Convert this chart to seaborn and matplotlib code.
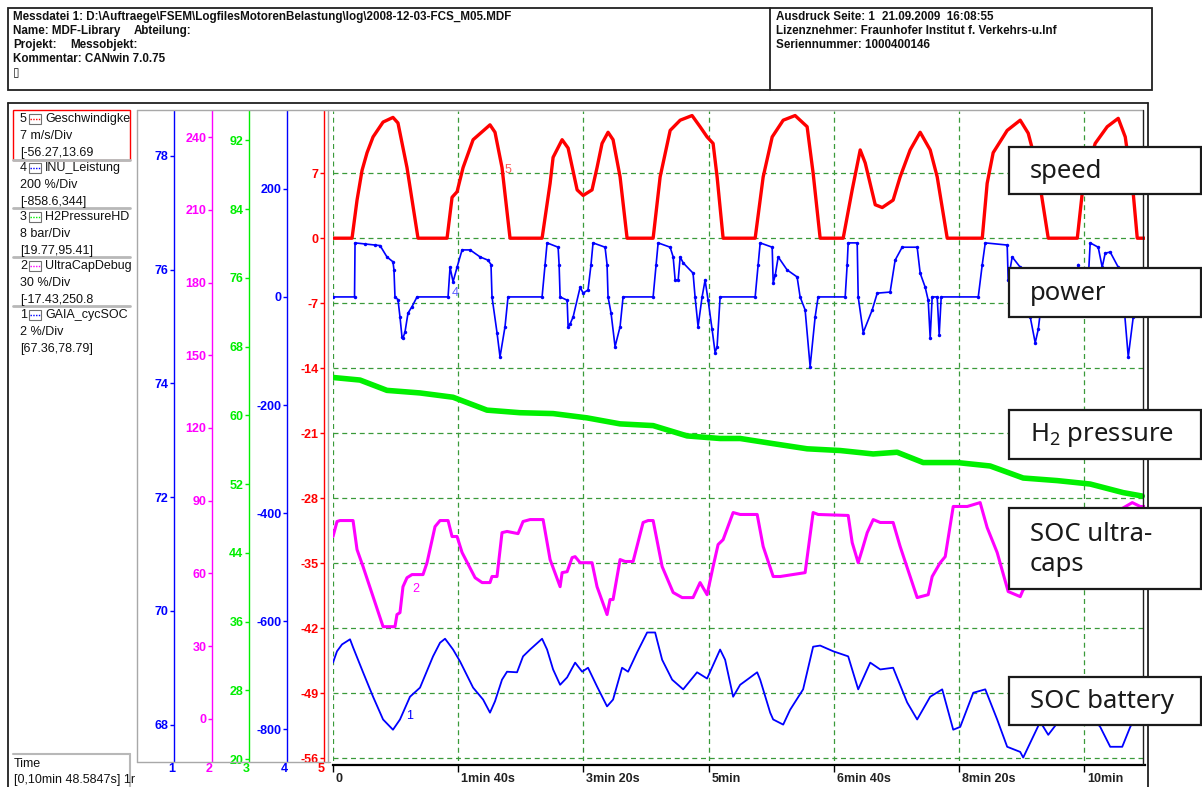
import numpy as np
import pandas as pd
import seaborn as sns
import matplotlib
matplotlib.use("Agg")
import matplotlib.pyplot as plt
from matplotlib.patches import Rectangle
from matplotlib.lines import Line2D
from matplotlib import transforms

# ---------------- data ----------------
time_ticks = [0, 100, 200, 300, 400, 500, 600]
time_labels = ["0", "1min 40s", "3min 20s", "5min", "6min 40s", "8min 20s", "10min"]
t_max = 648.58

# channel 5: Geschwindigkeit (speed, m/s)
speed_t = [0, 15.2, 19.2, 23.2, 27.2, 32.0, 40.0, 47.9, 51.9, 59.1, 67.9,
           91.1, 95.1, 99.1, 103.9, 111.9, 125.4, 129.4, 135.0, 141.4,
           167.0, 173.4, 175.8, 183.0, 187.8, 195.0, 199.8, 206.9, 210.9, 214.9, 219.7, 223.7, 229.3, 234.9,
           255.7, 261.3, 269.3, 277.3, 286.8, 293.2, 298.8, 303.6, 306.8, 311.6,
           337.2, 343.6, 350.8, 359.6, 369.1, 378.7, 383.5, 389.1,
           407.5, 414.7, 421.1, 425.1, 433.1, 438.7, 447.4, 453.0, 461.0, 469.0, 477.0, 482.6, 490.6,
           518.6, 522.5, 527.3, 538.5, 548.9, 555.3, 562.5, 571.3,
           594.5, 599.3, 608.8, 618.4, 627.2, 632.8, 639.2, 642.4, 648.6]
speed_v = [0, 0, 4.1, 7.3, 9.2, 10.9, 12.5, 13.0, 12.4, 7.6, 0,
           0, 4.4, 5.0, 7.6, 10.6, 12.2, 11.4, 7.6, 0,
           0, 5.9, 8.7, 10.6, 9.7, 5.2, 4.6, 5.2, 7.6, 10.2, 11.4, 10.6, 6.6, 0,
           0, 6.6, 11.6, 12.7, 13.2, 12.0, 10.9, 10.2, 6.6, 0,
           0, 6.6, 10.9, 12.7, 13.2, 12.0, 7.0, 0,
           0, 5.2, 9.5, 8.1, 3.6, 3.3, 4.1, 6.6, 9.5, 11.4, 9.5, 6.6, 0,
           0, 5.9, 9.2, 11.6, 12.7, 11.3, 7.6, 0,
           0, 5.9, 10.2, 12.0, 12.9, 10.9, 4.8, 0, 0]
speed_ticks = [-56, -49, -42, -35, -28, -21, -14, -7, 0, 7]

# channel 4: INU_Leistung (power, %)
power_t = [0, 17.2, 17.6, 25.6, 33.6, 37.6, 43.1, 47.9, 48.7, 49.5, 51.9, 53.5, 55.1, 55.9, 57.5, 59.9, 63.1, 67.1,
           91.9, 93.5, 95.9, 99.1, 103.1, 109.5, 117.5, 123.8, 126.2, 127.0, 131.0, 133.4, 137.4, 139.8,
           167.0, 169.4, 171.0, 179.8, 180.6, 181.4, 187.0, 187.8, 189.4, 191.8, 197.4, 199.8, 203.7, 206.1,
           207.7, 217.3, 218.9, 219.7, 222.1, 225.3, 229.3, 231.7,
           255.7, 258.1, 259.7, 269.3, 271.7, 273.3, 275.7, 277.3, 279.7, 287.6, 289.2, 291.6, 294.8, 297.2,
           299.6, 302.8, 305.2, 306.8, 309.2,
           337.2, 339.6, 341.2, 350.8, 351.6, 353.2, 355.6, 362.7, 370.7, 373.1, 377.1, 381.1, 385.1, 387.5,
           409.1, 410.7, 411.5, 418.7, 419.5, 423.5, 430.7, 434.7, 445.0, 449.0, 454.6, 466.6, 469.0, 473.0,
           475.4, 477.0, 478.6, 482.6, 484.2, 485.8,
           515.4, 518.6, 521.0, 538.5, 539.3, 542.5, 548.9, 551.3, 556.9, 560.9, 563.3, 566.5,
           594.5, 595.3, 596.9, 602.5, 604.8, 611.2, 614.4, 616.8, 620.8, 627.2, 631.2, 635.2, 639.2, 642.4,
           645.0, 648.6]
power_v = [0, 0, 100, 98, 96, 95, 74, 65, 50, 0, -5, -37, -74, -76, -65, -30, -18, 0,
           0, 55, 28, 55, 87, 87, 74, 68, 60, 0, -66, -111, -55, 0,
           0, 60, 100, 92, 60, 0, -6, -55, -50, -37, 18, 7, 13, 60,
           100, 92, 60, 0, -30, -92, -55, 0,
           0, 60, 100, 92, 74, 31, 31, 74, 63, 44, 0, -55, 0, 31,
           -6, -60, -103, -92, 0,
           0, 60, 100, 92, 26, 40, 74, 50, 37, 0, -24, -129, -37, 0,
           0, 60, 100, 100, 0, -66, -24, 7, 9, 68, 92, 92, 44, 18,
           -6, -76, 0, 0, -70, 0,
           0, 60, 100, 96, 31, 74, 55, 18, -37, -85, -60, 0,
           0, 60, 0, 0, 100, 92, 55, 81, 83, 55, 0, -111, -37, -18,
           0, 0]
power_ticks = [-800, -600, -400, -200, 0, 200]

# channel 3: H2PressureHD (bar)
h2_t = [0, 21.6, 43.1, 69.5, 95.9, 123.0, 149.4, 175.8, 202.9, 229.3, 255.7, 282.8, 309.2, 325.2,
        351.6, 378.7, 405.1, 431.5, 450.6, 471.4, 498.6, 524.9, 551.3, 578.5, 604.8, 631.2, 646.4]
h2_v = [64.4, 64.1, 62.9, 62.6, 62.1, 60.6, 60.3, 60.2, 59.7, 59.0, 58.8, 57.6, 57.3, 57.3,
        56.7, 56.1, 55.9, 55.5, 55.7, 54.5, 54.5, 54.1, 52.7, 52.4, 52.0, 51.0, 50.6]
h2_ticks = [20, 28, 36, 44, 52, 60, 68, 76, 84, 92]

# channel 2: UltraCapDebug (SOC ultra-caps, %)
uc_t = [0, 3.2, 5.6, 16.0, 19.2, 24.0, 40.0, 49.5, 51.1, 53.5, 55.9, 59.1, 63.1, 71.9, 75.1, 81.5, 85.5,
        91.9, 95.1, 99.1, 103.1, 113.5, 119.1, 125.4, 127.0, 131.0, 135.0, 139.0, 147.8, 151.8, 157.4,
        167.8, 173.4, 181.4, 183.0, 187.0, 191.0, 193.4, 197.4, 206.9, 210.9, 218.9, 221.3, 223.7, 229.3,
        233.3, 239.7, 247.7, 251.7, 255.7, 262.9, 271.7, 278.9, 287.6, 293.2, 298.8, 303.6, 307.6, 311.6,
        319.6, 325.2, 338.8, 343.6, 351.6, 357.2, 377.1, 383.5, 387.5, 411.5, 414.7, 419.5, 422.7, 426.7,
        431.5, 437.1, 447.4, 453.0, 466.6, 475.4, 478.6, 485.0, 489.0, 495.4, 506.6, 516.9, 522.5, 530.5,
        539.3, 548.9, 551.3, 568.9, 588.9, 608.8, 628.8, 638.4, 644.8, 648.6]
uc_v = [75.2, 81.4, 81.8, 81.8, 69.8, 62.8, 38.0, 38.0, 43.0, 43.8, 54.5, 58.2, 59.5, 59.5, 64.4, 79.3, 81.8,
        81.8, 75.2, 75.2, 68.6, 58.2, 56.2, 56.2, 58.7, 58.7, 76.8, 77.3, 76.4, 81.4, 82.2,
        82.2, 65.7, 54.5, 60.3, 60.7, 66.5, 66.9, 64.4, 64.4, 54.5, 43.0, 49.2, 49.2, 65.7,
        64.9, 64.9, 81.0, 81.8, 81.8, 62.8, 52.1, 50.0, 50.0, 56.2, 51.2, 62.8, 71.9, 73.9,
        85.1, 84.3, 84.3, 71.1, 58.7, 58.7, 60.3, 85.1, 84.3, 83.9, 72.7, 64.4, 69.8, 76.8,
        82.2, 81.0, 81.0, 71.1, 50.0, 51.2, 58.7, 64.4, 66.9, 87.6, 87.6, 89.2, 78.9, 68.6,
        52.5, 50.4, 53.3, 59.5, 71.9, 82.2, 86.3, 89.2, 87.6, 87.6]
uc_ticks = [0, 30, 60, 90, 120, 150, 180, 210, 240]

# channel 1: GAIA_cycSOC (SOC battery, %)
soc_t = [0, 3.2, 7.2, 13.6, 16.0, 24.0, 32.0, 40.0, 47.9, 53.5, 61.5, 69.5, 79.9, 85.5, 89.5, 91.9,
         95.9, 101.5, 111.9, 119.9, 125.4, 129.4, 135.0, 139.0, 147.0, 151.8, 157.4, 167.0, 171.0,
         175.8, 181.4, 187.0, 193.4, 199.0, 203.7, 210.9, 218.9, 223.7, 230.9, 235.7, 242.9, 250.9,
         257.3, 262.9, 270.9, 279.7, 290.8, 298.8, 309.2, 313.2, 319.6, 325.2, 330.8, 338.8, 341.2,
         349.2, 351.6, 359.6, 365.1, 375.5, 383.5, 389.1, 399.5, 411.5, 419.5, 429.1, 437.1, 447.4,
         458.6, 466.6, 477.0, 486.6, 495.4, 501.0, 511.4, 521.0, 530.5, 538.5, 548.9, 551.3, 556.9,
         564.9, 571.3, 579.3, 588.9, 600.8, 612.8, 620.8, 630.4, 636.8, 646.4]
soc_v = [69.09, 69.29, 69.41, 69.50, 69.36, 68.92, 68.49, 68.09, 67.91, 68.09, 68.49, 68.65, 69.20, 69.44,
         69.51, 69.44, 69.32, 69.11, 68.65, 68.44, 68.21, 68.41, 68.79, 68.93, 68.92, 69.20, 69.32, 69.51,
         69.32, 68.97, 68.70, 68.83, 69.09, 68.93, 69.00, 68.67, 68.32, 68.44, 69.00, 68.93, 69.27, 69.62,
         69.62, 69.14, 68.79, 68.62, 68.92, 68.81, 69.32, 69.14, 68.49, 68.70, 68.79, 68.92, 68.79,
         68.21, 68.09, 68.00, 68.26, 68.62, 69.37, 69.39, 69.29, 69.20, 68.62, 69.09, 68.97, 69.00,
         68.39, 68.09, 68.49, 68.62, 67.91, 67.96, 68.56, 68.62, 68.09, 67.61, 67.52, 67.42, 67.68,
         68.05, 67.82, 68.05, 68.35, 68.26, 67.96, 67.61, 67.61, 67.96, 68.35]
soc_ticks = [68, 70, 72, 74, 76, 78]

legend_items = [
    ("5", "Geschwindigke", "7 m/s/Div", "[-56.27,13.69"),
    ("4", "INU_Leistung", "200 %/Div", "[-858.6,344]"),
    ("3", "H2PressureHD", "8 bar/Div", "[19.77,95.41]"),
    ("2", "UltraCapDebug", "30 %/Div", "[-17.43,250.8"),
    ("1", "GAIA_cycSOC", "2 %/Div", "[67.36,78.79]"),
]
box_labels = ["speed", "power", "H$_2$ pressure", "SOC ultra-\ncaps", "SOC battery"]

header_left = [
    [("Messdatei 1: D:\\Auftraege\\FSEM\\LogfilesMotorenBelastung\\log\\2008-12-03-FCS_M05.MDF", 13)],
    [("Name: MDF-Library", 13), ("Abteilung:", 134)],
    [("Projekt:", 13), ("Messobjekt:", 70)],
    [("Kommentar: CANwin 7.0.75", 13)],
    [("\u25AF", 13)],
]
header_right = [
    [("Ausdruck Seite: 1", 776), ("21.09.2009  16:08:55", 882)],
    [("Lizenznehmer: Fraunhofer Institut f. Verkehrs-u.Inf", 776)],
    [("Seriennummer: 1000400146", 776)],
]

# ---------------- styling ----------------
sns.set_theme(style="white")
plt.rcParams["font.family"] = ["Liberation Sans", "DejaVu Sans"]
plt.rcParams["axes.unicode_minus"] = False
plt.rcParams["mathtext.default"] = "regular"

RED, BLUE, GREEN, MAG = "#ff0000", "#0000ff", "#00ee00", "#ff00ff"
GRID = "#3a9a3a"
TICKFONT = 9

W, H = 1202, 787
fig = plt.figure(figsize=(W / 100, H / 100), dpi=100)
fig.patch.set_facecolor("white")


def fx(x):
    return x / W


def fy(y):
    return 1 - y / H


def fline(xs, ys, **kw):
    fig.add_artist(Line2D([fx(x) for x in xs], [fy(y) for y in ys], transform=fig.transFigure, **kw))


def frect(x0, y0, x1, y1, **kw):
    r = Rectangle((fx(x0), fy(y1)), fx(x1) - fx(x0), fy(y0) - fy(y1), transform=fig.transFigure, **kw)
    fig.add_artist(r)
    return r


L, R, T, B = 333, 1145, 111, 761
ax = fig.add_axes([fx(L), fy(B), (R - L) / W, (B - T) / H])
ax.set_facecolor("white")


def spine_pos(xpix):
    return (xpix - L) / (R - L)


# main axis: channel 5 (speed)
sns.lineplot(x=speed_t, y=speed_v, ax=ax, color=RED, lw=2.4, estimator=None, sort=False, zorder=5)
ax.set_xlim(0, t_max)
ax.set_ylim(-56.27, 13.69)
ax.set_yticks(speed_ticks)
ax.set_xticks(time_ticks)
ax.set_xticklabels(time_labels)
ax.set_xlabel("")
ax.set_ylabel("")
ax.grid(True, color=GRID, linestyle=(0, (4, 3)), linewidth=0.9)
for s in ["top", "right"]:
    ax.spines[s].set_visible(False)
ax.spines["left"].set_position(("axes", spine_pos(324)))
ax.spines["left"].set_color(RED)
ax.spines["left"].set_linewidth(1.0)
ax.spines["bottom"].set_position(("outward", 3))
ax.spines["bottom"].set_color("black")
ax.spines["bottom"].set_linewidth(1.6)
ax.tick_params(axis="y", colors=RED, labelcolor=RED, length=3, width=1, direction="out",
               labelsize=TICKFONT, pad=1, left=True)
ax.tick_params(axis="x", colors="black", labelcolor="#222222", length=5, width=1, direction="out",
               labelsize=TICKFONT, pad=1, bottom=True)
off = transforms.ScaledTranslation(3 / 100, 0, fig.dpi_scale_trans)
for lbl in ax.get_xticklabels():
    lbl.set_ha("left")
    lbl.set_fontweight("bold")
    lbl.set_transform(lbl.get_transform() + off)
for lbl in ax.get_yticklabels():
    lbl.set_fontweight("bold")


def make_twin(lim, ticks, color, xpix):
    tw = ax.twinx()
    tw.set_ylim(*lim)
    tw.yaxis.tick_left()
    for s in ["top", "bottom", "right"]:
        tw.spines[s].set_visible(False)
    tw.spines["left"].set_visible(True)
    tw.spines["left"].set_position(("axes", spine_pos(xpix)))
    tw.spines["left"].set_color(color)
    tw.spines["left"].set_linewidth(1.0)
    tw.set_yticks(ticks)
    tw.tick_params(axis="y", colors=color, labelcolor=color, length=3, width=1, direction="out",
                   labelsize=TICKFONT, pad=1, left=True, right=False, labelleft=True, labelright=False)
    for lbl in tw.get_yticklabels():
        lbl.set_fontweight("bold")
    tw.grid(False)
    return tw


ax_p = make_twin((-858.6, 344), power_ticks, BLUE, 287)
ax_h = make_twin((19.77, 95.41), h2_ticks, GREEN, 249)
ax_u = make_twin((-17.43, 250.8), uc_ticks, MAG, 212)
ax_s = make_twin((67.36, 78.79), soc_ticks, BLUE, 174)

sns.lineplot(x=power_t, y=power_v, ax=ax_p, color=BLUE, lw=1.2, marker="o", markersize=2.5,
             markeredgewidth=0, estimator=None, sort=False)
sns.lineplot(x=h2_t, y=h2_v, ax=ax_h, color="#00f000", lw=4.0, estimator=None, sort=False)
sns.lineplot(x=uc_t, y=uc_v, ax=ax_u, color=MAG, lw=2.2, estimator=None, sort=False)
sns.lineplot(x=soc_t, y=soc_v, ax=ax_s, color=BLUE, lw=1.3, estimator=None, sort=False)

for tw, lim in [(ax_p, (-858.6, 344)), (ax_h, (19.77, 95.41)), (ax_u, (-17.43, 250.8)), (ax_s, (67.36, 78.79))]:
    tw.set_ylim(*lim)
    tw.set_xlim(0, t_max)
    tw.set_ylabel("")
    for lbl in tw.get_yticklabels():
        lbl.set_fontweight("bold")
ax.set_xlim(0, t_max)

# channel numbers on the curves
ax.text(140, 7.3, "5", color="#ff6060", fontsize=9, ha="center", va="center", zorder=6)
ax_p.text(97.5, 7, "4", color="#5a5aff", fontsize=9, ha="center", va="center")
ax_u.text(66, 53.7, "2", color=MAG, fontsize=9, ha="center", va="center")
ax_s.text(61.5, 68.16, "1", color=BLUE, fontsize=9, ha="center", va="center")

# ---------------- frames ----------------
# header box
frect(8, 8, 1152, 90, fill=False, edgecolor="#202020", lw=1.3)
fline([770, 770], [8, 90], color="#202020", lw=1.3)
for i, row in enumerate(header_left):
    for txt, x in row:
        fig.text(fx(x), fy(17 + 14 * i), txt, fontsize=8.4, fontweight="bold", color="#111111",
                 ha="left", va="center", family=["Liberation Sans", "DejaVu Sans"])
for i, row in enumerate(header_right):
    for txt, x in row:
        fig.text(fx(x), fy(17 + 14 * i), txt, fontsize=8.4, fontweight="bold", color="#111111",
                 ha="left", va="center")

# outer chart box
fline([8, 8], [103, 787], color="#202020", lw=1.3)
fline([8, 1148], [103, 103], color="#202020", lw=1.3)
fline([1148, 1148], [103, 787], color="#202020", lw=1.3)
# strip / plot frame
fline([137, 1143], [110, 110], color="#a8a8a8", lw=1.0)
fline([137, 137], [110, 762], color="#a8a8a8", lw=1.0)
fline([137, 330], [762, 762], color="#a8a8a8", lw=1.0)
fline([328, 328], [110, 762], color="#a8a8a8", lw=1.0)
fline([1143, 1143], [110, 764], color="#202020", lw=1.0)

# legend panel
frect(13, 110, 130, 160, fill=False, edgecolor=RED, lw=1.0)
for ysep in [160, 208, 257, 306]:
    fline([13, 130], [ysep, ysep], color="#b8b8b8", lw=2.0)
icon_cols = [RED, BLUE, GREEN, MAG, BLUE]
for k, (num, name, div, rng) in enumerate(legend_items):
    y0 = 119 + 49 * k
    fig.text(fx(20), fy(y0), num, fontsize=9, color="#111111", ha="left", va="center")
    frect(29, y0 - 5, 41, y0 + 5, facecolor="white", edgecolor="#707070", lw=0.8)
    fline([30, 40], [y0, y0], color=icon_cols[k], lw=1.0, linestyle=(0, (1, 1)))
    fig.text(fx(45), fy(y0), name, fontsize=9, color="#111111", ha="left", va="center")
    fig.text(fx(20), fy(y0 + 17), div, fontsize=9, color="#111111", ha="left", va="center")
    fig.text(fx(20), fy(y0 + 34), rng, fontsize=9, color="#111111", ha="left", va="center")

fline([13, 130], [754, 754], color="#b8b8b8", lw=1.5)
fline([130, 130], [754, 787], color="#b8b8b8", lw=1.5)
fig.text(fx(14), fy(764), "Time", fontsize=9, color="#111111", ha="left", va="center")
fig.text(fx(14), fy(780), "[0,10min 48.5847s] 1r", fontsize=9, color="#111111", ha="left", va="center")

# axis numbers under the strip
for num, x, c in [("1", 172, BLUE), ("2", 209, MAG), ("3", 246, GREEN), ("4", 284, BLUE), ("5", 321, RED)]:
    fig.text(fx(x), fy(769), num, fontsize=9, fontweight="bold", color=c, ha="center", va="center")

# annotation boxes on the right
boxes = [(147, 194), (268, 317), (410, 459), (508, 589), (677, 725)]
for (y0, y1), lab in zip(boxes, box_labels):
    frect(1009, y0, 1201, y1, facecolor="white", edgecolor="#1a1a1a", lw=1.6, zorder=8)
    fig.text(fx(1030), fy((y0 + y1) / 2 + 1), lab, fontsize=18.5, color="#1a1a1a", ha="left", va="center",
             linespacing=1.3, family=["Noto Sans", "DejaVu Sans"], zorder=9)

fig.savefig("out.png", dpi=100, facecolor="white")
